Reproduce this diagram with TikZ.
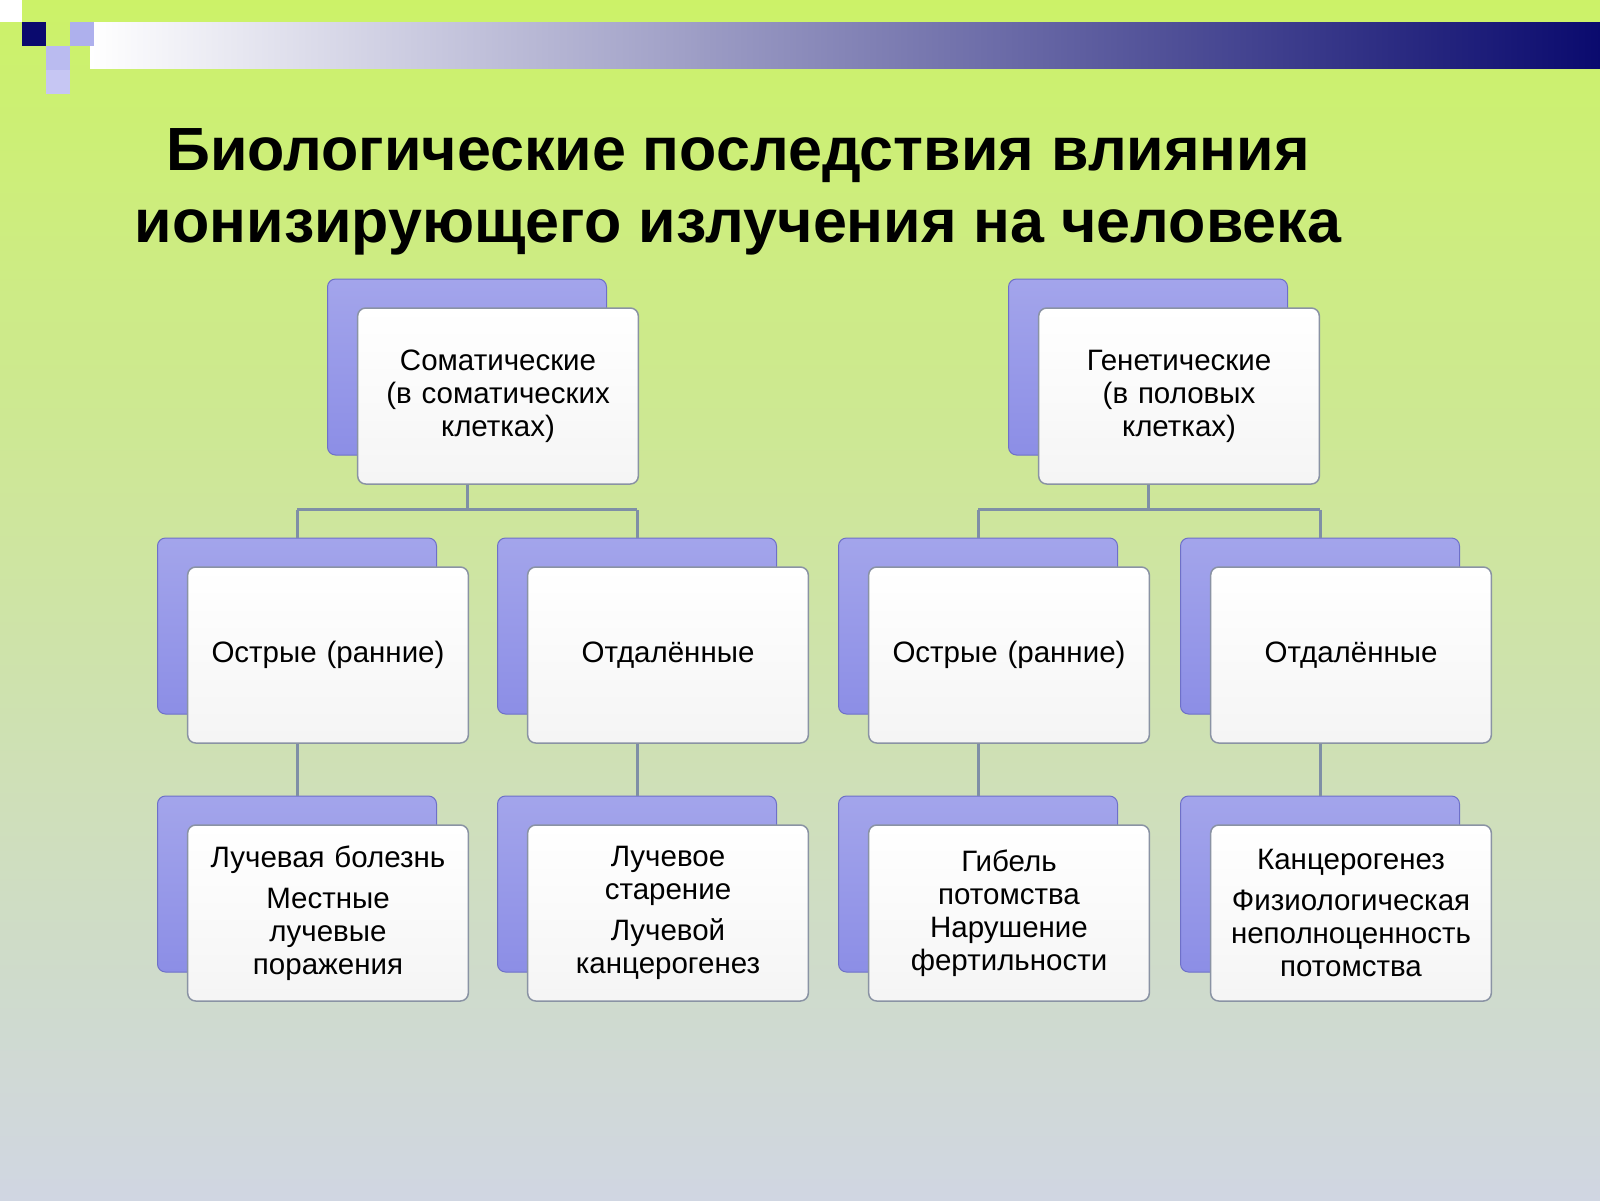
\documentclass[tikz,border=0pt]{standalone}
\usepackage{fontspec}
\setmainfont{Liberation Sans}
\usetikzlibrary{positioning}
\definecolor{bgtop}{HTML}{CCF268}
\definecolor{bgbot}{HTML}{D0D6E2}
\definecolor{navy}{HTML}{0A0A6E}
\definecolor{lav}{HTML}{8C8EE6}
\definecolor{lavdark}{HTML}{6E70C8}
\definecolor{edge}{HTML}{8A93A4}
\definecolor{link}{HTML}{7F8FA6}
\tikzset{
  back/.style={draw=lavdark,rounded corners=8pt,top color=lav!80!white,bottom color=lav,
    minimum width=279pt,minimum height=176pt,line width=1pt},
  front/.style={draw=edge,rounded corners=8pt,top color=white,bottom color=gray!8,
    minimum width=279pt,minimum height=176pt,line width=1.5pt,align=center,
    font=\fontsize{29.5}{33}\selectfont,text width=274pt},
  link/.style={draw=link,line width=3pt}
}
\begin{document}
\begin{tikzpicture}[x=1pt,y=-1pt]
\useasboundingbox (0,0) rectangle (1600,1200);
% background
\shade[top color=bgtop,bottom color=bgbot] (0,0) rectangle (1600,1200);
\shade[left color=white,right color=navy] (90,22) rectangle (1600,68);
\fill[left color=white,right color=white!60!navy] (90,22) rectangle (700,68);
\fill[navy] (22,22) rectangle (46,46);
\fill[lav!70!white] (70,22) rectangle (94,46);
\fill[lav!60!white] (46,46) rectangle (70,70);
\fill[lav!50!white] (46,70) rectangle (70,94);
\fill[white] (0,0) rectangle (22,22);
% title
\node[font=\bfseries\fontsize{61}{72}\selectfont,align=center] (title) at (738,192)
  {Биологические последствия влияния\\ионизирующего излучения на человека};
% level 1
\node[back] (somb) at (467,367) {};
\node[front] (somf) at (498,396) {Соматические\\(в соматических\\клетках)};
\node[back] (genb) at (1148,367) {};
\node[front] (genf) at (1179,396) {Генетические\\(в половых\\клетках)};
% level 2
\foreach \n/\x/\t in {sa/297/Острые (ранние), sd/637/Отдалённые, ga/978/Острые (ранние), gd/1320/Отдалённые}{
  \node[back] (\n b) at (\x,626) {};
  \node[front] (\n f) at (\x+31,655) {\t};
}
% level 3
\node[back] (sa3b) at (297,884) {};
\node[front] (sa3f) at (328,913) {Лучевая болезнь\\[8pt]Местные\\лучевые\\поражения};
\node[back] (sd3b) at (637,884) {};
\node[front] (sd3f) at (668,913) {Лучевое\\старение\\[8pt]Лучевой\\канцерогенез};
\node[back] (ga3b) at (978,884) {};
\node[front] (ga3f) at (1009,913) {Гибель\\потомства\\Нарушение\\фертильности};
\node[back] (gd3b) at (1320,884) {};
\node[front] (gd3f) at (1351,913) {Канцерогенез\\[8pt]Физиологическая\\неполноценность\\потомства};
% connectors
\draw[link] (somb.south |- somf.south) -- ++(0,25) coordinate (sj);
\draw[link] (sj -| sab.north) -- (sj -| sdb.north);
\draw[link] (sj -| sab.north) -- (sab.north);
\draw[link] (sj -| sdb.north) -- (sdb.north);
\draw[link] (genb.south |- genf.south) -- ++(0,25) coordinate (gj);
\draw[link] (gj -| gab.north) -- (gj -| gdb.north);
\draw[link] (gj -| gab.north) -- (gab.north);
\draw[link] (gj -| gdb.north) -- (gdb.north);
\foreach \n in {sa,sd,ga,gd}{
  \draw[link] (\n b.south |- \n f.south) -- (\n 3b.north);
}
\end{tikzpicture}
\end{document}
